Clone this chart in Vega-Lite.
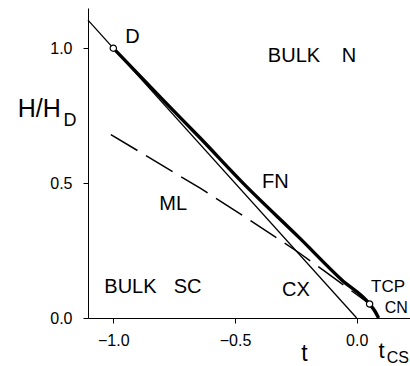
{
  "$schema": "https://vega.github.io/schema/vega-lite/v6.json",
  "autosize": "none",
  "width": 322,
  "height": 310,
  "padding": {"left": 88, "top": 8, "right": 0, "bottom": 48},
  "background": "white",
  "config": {
    "view": {"stroke": null},
    "font": "Liberation Sans",
    "axis": {
      "grid": false,
      "domainColor": "black",
      "tickColor": "black",
      "labelColor": "black",
      "labelFont": "Liberation Sans",
      "labelFontSize": 16,
      "tickSize": 5,
      "domainWidth": 1,
      "tickWidth": 1
    }
  },
  "datasets": {
    "thin": [
      {"t": -1.104, "H": 1.104},
      {"t": 0.0, "H": 0.0}
    ],
    "thick": [
      {"t": -1.0, "H": 1.0},
      {"t": -0.8, "H": 0.812},
      {"t": -0.643, "H": 0.667},
      {"t": -0.467, "H": 0.5},
      {"t": -0.234, "H": 0.296},
      {"t": -0.061, "H": 0.141},
      {"t": 0.053, "H": 0.052},
      {"t": 0.075, "H": 0.025},
      {"t": 0.09, "H": 0.0}
    ],
    "dashed": [
      {"t": -1.01, "H": 0.68},
      {"t": -0.643, "H": 0.481},
      {"t": -0.439, "H": 0.363},
      {"t": -0.234, "H": 0.24},
      {"t": -0.139, "H": 0.178},
      {"t": 0.053, "H": 0.052}
    ],
    "points": [
      {"t": -1.0, "H": 1.0},
      {"t": 0.053, "H": 0.052}
    ],
    "labels": [
      {"t": -0.951, "H": 1.019, "text": "D", "size": 20},
      {"t": -0.365, "H": 0.948, "text": "BULK", "size": 20},
      {"t": -0.061, "H": 0.948, "text": "N", "size": 20},
      {"t": -0.389, "H": 0.481, "text": "FN", "size": 20},
      {"t": -0.811, "H": 0.4, "text": "ML", "size": 20},
      {"t": -1.037, "H": 0.093, "text": "BULK", "size": 20},
      {"t": -0.752, "H": 0.093, "text": "SC", "size": 20},
      {"t": -0.307, "H": 0.081, "text": "CX", "size": 20},
      {"t": 0.059, "H": 0.097, "text": "TCP", "size": 17},
      {"t": 0.115, "H": 0.019, "text": "CN", "size": 16},
      {"t": -1.393, "H": 0.744, "text": "H/H", "size": 25},
      {"t": -1.205, "H": 0.711, "text": "D", "size": 18},
      {"t": 0.09, "H": -0.148, "text": "t", "size": 22},
      {"t": 0.123, "H": -0.167, "text": "CS", "size": 16},
      {"t": -0.228, "H": -0.158, "text": "t", "size": 23}
    ]
  },
  "layer": [
    {
      "data": {"name": "thin"},
      "mark": {"type": "line", "color": "black", "strokeWidth": 1.3},
      "encoding": {
        "x": {
          "field": "t", "type": "quantitative",
          "scale": {"domain": [-1.104, 0.219], "nice": false, "zero": false},
          "axis": {"values": [-1.0, -0.5, 0.0], "format": ".1f", "title": null, "labelPadding": 9}
        },
        "y": {
          "field": "H", "type": "quantitative",
          "scale": {"domain": [0, 1.149], "nice": false},
          "axis": {"values": [0.0, 0.5, 1.0], "format": ".1f", "title": null, "labelPadding": 11}
        }
      }
    },
    {
      "mark": {"type": "rule", "color": "black", "strokeWidth": 1},
      "encoding": {"y": {"datum": 1.149}}
    },
    {
      "data": {"name": "dashed"},
      "mark": {"type": "line", "color": "black", "strokeWidth": 1.5, "strokeDash": [31, 10]},
      "encoding": {
        "x": {"field": "t", "type": "quantitative"},
        "y": {"field": "H", "type": "quantitative"}
      }
    },
    {
      "data": {"name": "thick"},
      "mark": {"type": "line", "color": "black", "strokeWidth": 3.4, "interpolate": "monotone"},
      "encoding": {
        "x": {"field": "t", "type": "quantitative"},
        "y": {"field": "H", "type": "quantitative"}
      }
    },
    {
      "data": {"name": "points"},
      "mark": {"type": "point", "shape": "circle", "filled": true, "fill": "white", "stroke": "black", "strokeWidth": 1.2, "size": 40, "opacity": 1},
      "encoding": {
        "x": {"field": "t", "type": "quantitative"},
        "y": {"field": "H", "type": "quantitative"}
      }
    },
    {
      "data": {"name": "labels"},
      "mark": {"type": "text", "align": "left", "baseline": "alphabetic", "color": "black", "font": "Liberation Sans"},
      "encoding": {
        "x": {"field": "t", "type": "quantitative"},
        "y": {"field": "H", "type": "quantitative"},
        "text": {"field": "text"},
        "size": {"field": "size", "type": "quantitative", "scale": null}
      }
    }
  ]
}
